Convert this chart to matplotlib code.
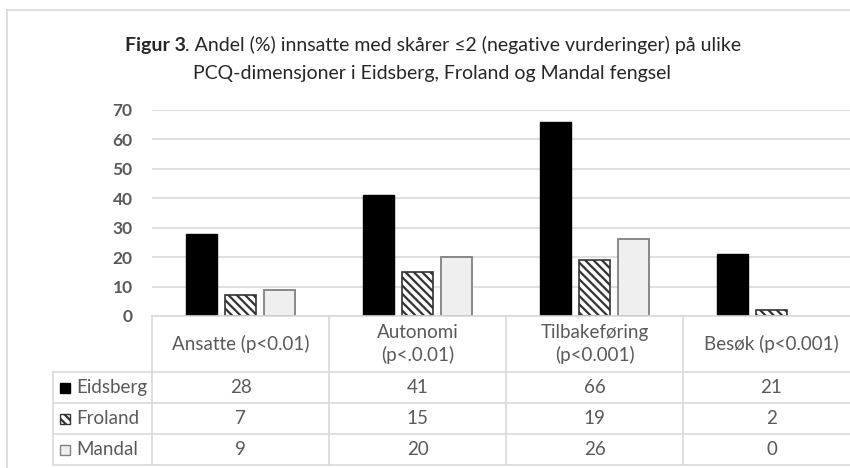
import matplotlib
matplotlib.use("Agg")
import matplotlib.pyplot as plt
from matplotlib.patches import Rectangle
from matplotlib.lines import Line2D

plt.rcParams['font.family'] = ['Lato', 'DejaVu Sans']
plt.rcParams['hatch.linewidth'] = 1.6

# ---- data ----
categories = ["Ansatte (p<0.01)", "Autonomi\n(p<.0.01)", "Tilbakeføring\n(p<0.001)", "Besøk (p<0.001)"]
series_names = ["Eidsberg", "Froland", "Mandal"]
eidsberg = [28, 41, 66, 21]
froland = [7, 15, 19, 2]
mandal = [9, 20, 26, 0]
yticks = [0, 10, 20, 30, 40, 50, 60, 70]
title_bold = "Figur 3"
title_rest = ". Andel (%) innsatte med skårer ≤2 (negative vurderinger) på ulike"
title_line2 = "PCQ-dimensjoner i Eidsberg, Froland og Mandal fengsel"

W, H = 850, 468
fig = plt.figure(figsize=(W / 100, H / 100), dpi=100)

def px_rect(x0, y0, x1, y1):
    return [x0 / W, 1 - y1 / H, (x1 - x0) / W, (y1 - y0) / H]

TXT = '#595959'
GRID = '#d9d9d9'
FS = 13.5

# outer chart border
fig.add_artist(Line2D([7 / W, 7 / W], [0, 1 - 10 / H], transform=fig.transFigure, color=GRID, lw=1.2))
fig.add_artist(Line2D([7 / W, 1], [1 - 10 / H, 1 - 10 / H], transform=fig.transFigure, color=GRID, lw=1.2))

# main axes
x_left, x_right = 152, 860
ax = fig.add_axes(px_rect(x_left, 110, x_right, 316))
n = len(categories)
xs = list(range(n))
bw = 0.175
off = 0.218
ax.bar([x - off for x in xs], eidsberg, width=bw, color='black', edgecolor='black', lw=1, zorder=3)
ax.bar(xs, froland, width=bw, color='white', edgecolor='#333333', hatch='\\\\\\\\',
       lw=[1.2 if v > 0 else 0 for v in froland], zorder=3)
ax.bar([x + off for x in xs], mandal, width=bw, color='#efefef', edgecolor='#808080',
       lw=[1.3 if v > 0 else 0 for v in mandal], zorder=3)
ax.set_xlim(-0.5, n - 0.5)
ax.set_ylim(0, 70)
ax.set_yticks(yticks)
ax.set_yticklabels([str(t) for t in yticks], fontsize=12.5, fontweight='bold', color=TXT)
ax.tick_params(axis='y', length=0, pad=14)
ax.set_xticks([])
for s in ax.spines.values():
    s.set_visible(False)
ax.grid(axis='y', color=GRID, lw=1.2, zorder=0)
ax.set_axisbelow(True)

# table axes
tab = fig.add_axes(px_rect(x_left, 316, x_right, 465))
tab.set_xlim(-0.5, n - 0.5)
tab.set_ylim(149, 0)
tab.axis('off')
unit = (x_right - x_left) / n
xl = -0.5 - (x_left - 53) / unit
hdr = 56
rows_y = [56, 87, 118, 149]
lkw = dict(color=GRID, lw=1.2, clip_on=False)
tab.plot([-0.5, n - 0.5], [0, 0], **lkw)
for y in rows_y:
    tab.plot([xl, n - 0.5], [y, y], **lkw)
for i in range(n + 1):
    tab.plot([i - 0.5, i - 0.5], [0, 149], **lkw)
tab.plot([xl, xl], [hdr, 149], **lkw)

for i, c in enumerate(categories):
    tab.text(i, hdr / 2, c, ha='center', va='center', fontsize=FS, color=TXT, linespacing=1.3)

series = [eidsberg, froland, mandal]
for r, (name, vals) in enumerate(zip(series_names, series)):
    yc = (rows_y[r] + rows_y[r + 1]) / 2
    for i, v in enumerate(vals):
        tab.text(i, yc, str(v), ha='center', va='center', fontsize=FS, color=TXT)
    tab.text(xl + 23 / unit, yc, name, ha='left', va='center', fontsize=FS, color=TXT)

# legend keys in table
kx0 = xl + 7 / unit
kw = 10 / unit
styles = [dict(facecolor='black', edgecolor='black', lw=1),
          dict(facecolor='white', edgecolor='#333333', hatch='\\\\\\\\', lw=1),
          dict(facecolor='#efefef', edgecolor='#808080', lw=1)]
for r, st in enumerate(styles):
    yc = (rows_y[r] + rows_y[r + 1]) / 2
    tab.add_patch(Rectangle((kx0, yc - 5), kw, 10, clip_on=False, **st))

# title
TFS = 14
t1 = fig.text(0, 1 - 45 / H, title_bold, fontsize=TFS, fontweight='bold', color='#262626', va='center', ha='left')
t2 = fig.text(0, 1 - 45 / H, title_rest, fontsize=TFS, color='#262626', va='center', ha='left')
fig.canvas.draw()
r = fig.canvas.get_renderer()
w1 = t1.get_window_extent(r).width
w2 = t2.get_window_extent(r).width
cx = 433
start = cx - (w1 + w2) / 2
t1.set_x(start / W)
t2.set_x((start + w1) / W)
fig.text(432 / W, 1 - 73 / H, title_line2, fontsize=TFS, color='#262626', va='center', ha='center')

fig.savefig('out.png', dpi=100, facecolor='white')
